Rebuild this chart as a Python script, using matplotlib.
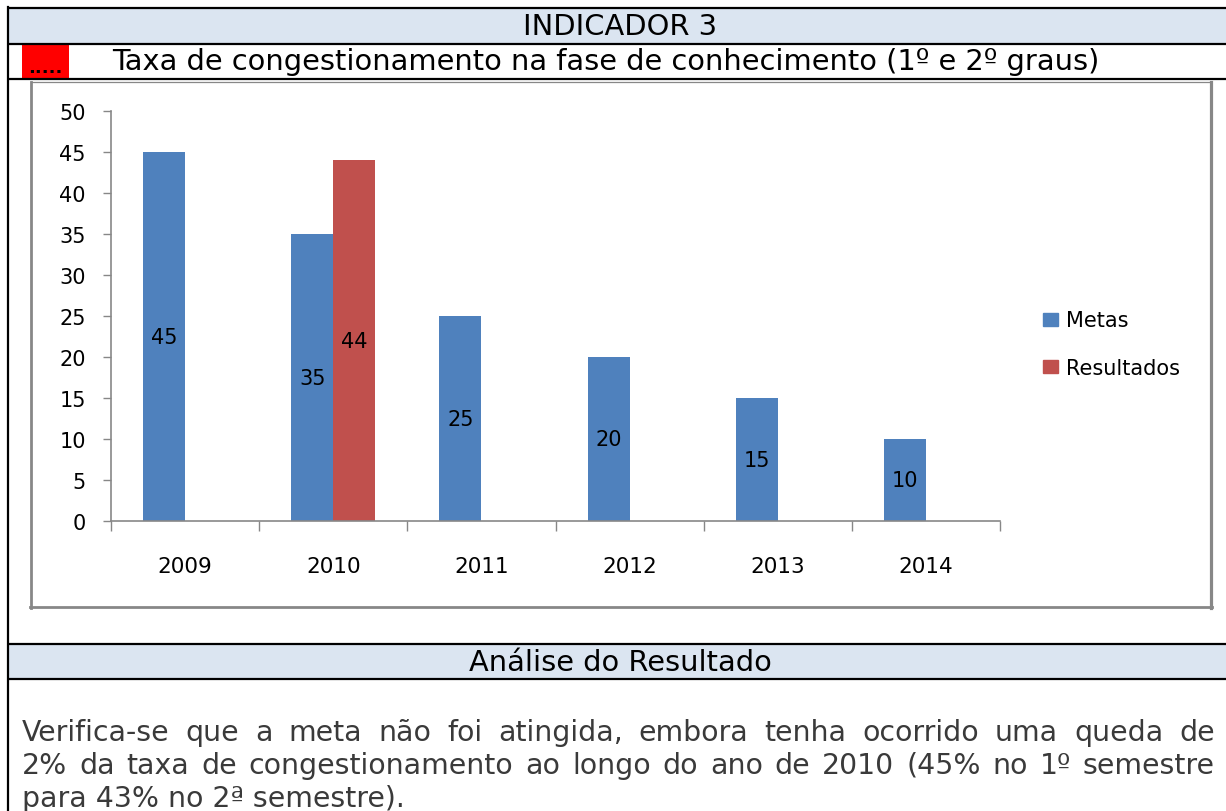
import numpy as np
import matplotlib
matplotlib.use("Agg")
import matplotlib.pyplot as plt
from matplotlib.patches import Patch

# data
anos = ["2009", "2010", "2011", "2012", "2013", "2014"]
metas = [45, 35, 25, 20, 15, 10]
resultados = [np.nan, 44, np.nan, np.nan, np.nan, np.nan]
yticks = [0, 5, 10, 15, 20, 25, 30, 35, 40, 45, 50]

titulo = "INDICADOR 3"
subtitulo = "Taxa de congestionamento na fase de conhecimento (1º e 2º graus)"
analise = "Análise do Resultado"
texto = [
    "Verifica-se que a meta não foi atingida, embora tenha ocorrido uma queda de",
    "2% da taxa de congestionamento ao longo do ano de 2010 (45% no 1º semestre",
    "para 43% no 2ª semestre).",
]

W, H = 1226, 812
AZUL = "#4f81bd"
VERM = "#c0504d"
FUNDO = "#dbe5f1"
CINZA = "#878787"

fig = plt.figure(figsize=(W / 100, H / 100), dpi=100)

# background layer in pixel coords
bg = fig.add_axes([0, 0, 1, 1], zorder=0)
bg.set_xlim(0, W)
bg.set_ylim(H, 0)
bg.axis("off")

R = 1232
bg.fill_between([8, R], 9, 44.5, color=FUNDO, lw=0)
bg.fill_between([8, R], 645, 680, color=FUNDO, lw=0)
for y in [9, 44.5, 79.5, 645, 680]:
    bg.plot([7, R], [y, y], color="black", lw=1.6, solid_capstyle="butt")
bg.plot([8, 8], [8, H], color="black", lw=1.6)
bg.fill_between([22, 69], 45.5, 79, color="#ff0000", lw=0)
bg.text(45, 73, ".....", ha="center", va="baseline", fontsize=13,
        fontweight="bold", color="black", zorder=5)

# grey chart frame
bg.plot([31, 1211], [83, 83], color=CINZA, lw=0.9)
bg.plot([31, 31], [83, 608.5], color=CINZA, lw=2.0)
bg.plot([1210.5, 1210.5], [83, 608.5], color=CINZA, lw=2.3)
bg.plot([30, 1211.5], [607.5, 607.5], color=CINZA, lw=2.0)

bg.text(620, 27, titulo, ha="center", va="center", fontsize=20.8)
bg.text(606, 62, subtitulo, ha="center", va="center", fontsize=20.8)
bg.text(620, 663, analise, ha="center", va="center", fontsize=20.8)

# chart
ax = fig.add_axes([111 / W, (H - 522.3) / H, 889 / W, 410.6 / H], zorder=1)
ax.set_facecolor("none")
x = np.arange(len(anos))
w = 0.2834
b1 = ax.bar(x - w / 2, metas, w, color=AZUL, label="Metas")
b2 = ax.bar(x + w / 2, resultados, w, color=VERM, label="Resultados")
ax.bar_label(b1, label_type="center", fontsize=15)
ax.bar_label(b2, label_type="center", fontsize=15)

ax.set_xlim(-0.5, len(anos) - 0.5)
ax.set_ylim(0, 50)
ax.set_yticks(yticks)
ax.set_xticks(x)
ax.set_xticklabels(anos)
ax.set_xticks(np.arange(len(anos) + 1) - 0.5, minor=True)
ax.tick_params(axis="x", which="major", length=0, pad=25, labelsize=15.5)
ax.tick_params(axis="x", which="minor", length=7.2, width=1, color=CINZA, direction="out")
ax.tick_params(axis="y", length=6, width=1, color=CINZA, pad=12, labelsize=15)
for s in ["top", "right"]:
    ax.spines[s].set_visible(False)
for s in ["left", "bottom"]:
    ax.spines[s].set_color(CINZA)
    ax.spines[s].set_linewidth(1.2)

handles = [Patch(color=AZUL, label="Metas"), Patch(color=VERM, label="Resultados")]
fig.legend(handles=handles, loc="center left", bbox_to_anchor=(1043 / W, (H - 345) / H),
           frameon=False, fontsize=15, borderpad=0, borderaxespad=0,
           handlelength=0.7, handleheight=0.6, handletextpad=0.4, labelspacing=1.3)

# justified paragraph
fig.canvas.draw()
rend = fig.canvas.get_renderer()
x0, x1 = 22, 1215
cor_txt = "#3a3a3a"
fs = 20.4
for i, linha in enumerate(texto):
    yb = 741 + 33 * i
    if i == len(texto) - 1:
        bg.text(x0, yb, linha, ha="left", va="baseline", fontsize=fs, color=cor_txt)
        continue
    palavras = linha.split(" ")
    objs = [bg.text(0, yb, p, ha="left", va="baseline", fontsize=fs, color=cor_txt) for p in palavras]
    larg = [o.get_window_extent(rend).width for o in objs]
    gap = (x1 - x0 - sum(larg)) / (len(palavras) - 1)
    pos = x0
    for o, lw_ in zip(objs, larg):
        o.set_x(pos)
        pos += lw_ + gap

fig.savefig("out.png", dpi=100)
